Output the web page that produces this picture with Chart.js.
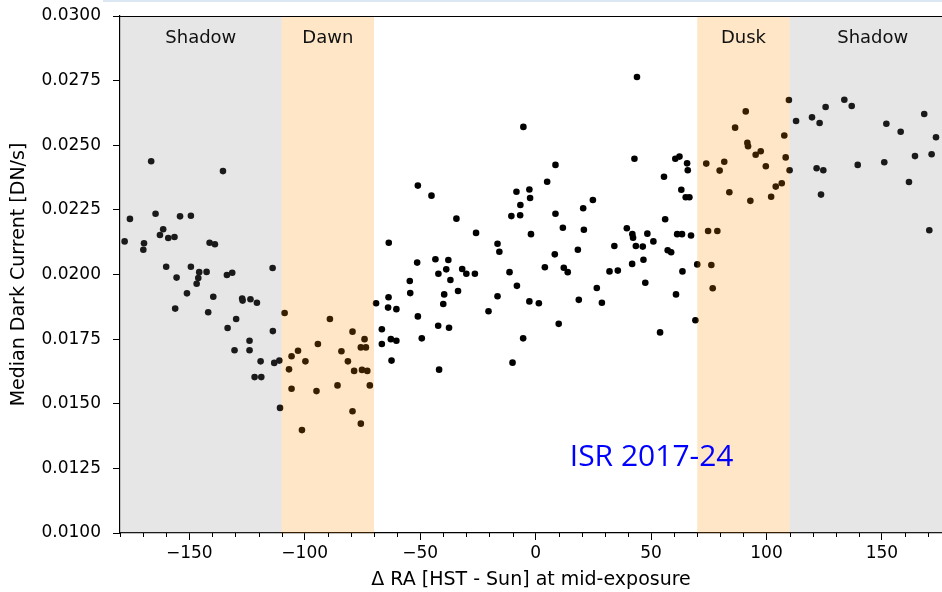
<!DOCTYPE html>
<html>
<head>
<meta charset="utf-8">
<script src="https://cdn.jsdelivr.net/npm/chart.js@4.4.1/dist/chart.umd.min.js"></script>
<style>
  html, body { margin: 0; padding: 0; background: #ffffff; }
  canvas { display: block; }
</style>
</head>
<body>
<canvas id="c" width="942" height="592"></canvas>
<script>
// Delta RA (HST - Sun) at mid-exposure, degrees
const deltaRA = [
  -166.5, -135.4, -164.6, -175.7, -154.0, -149.3, -161.3, -162.7, -159.1, -156.4,
  -178.0, -169.6, -169.9, -141.2, -138.9, -160.0, -149.3, -155.5, -145.7, -146.1,
  -146.8, -142.5, -133.7, -131.4, -113.9, -151.0, -139.6, -127.1, -126.9, -123.5,
  -120.7, -156.1, -141.8, -129.7, -133.4, -113.8, -123.9, -130.4, -123.9, -119.1,
  -113.2, -111.0, -121.7, -118.8, -110.7, -108.7, -89.1, -79.3, -74.1, -94.3,
  -75.7, -73.5, -102.9, -84.1, -105.7, -99.7, -81.3, -106.8, -78.6, -75.2,
  -72.9, -71.8, -85.8, -105.7, -94.9, -79.3, -75.7, -101.2, -69.1, -63.7,
  -63.9, -60.3, -66.6, -62.7, -60.3, -66.6, -62.4, -40.0, -51.0, -20.4,
  -2.7, 1.4, 10.0, -42.2, -37.5, -49.3, -5.4, -10.0, -41.8, -51.0,
  -45.1, -34.3, -25.8, -63.6, -16.5, -15.7, -8.3, -2.7, -2.4, -6.6,
  -10.5, -6.7, -2.0, -51.3, -43.4, -37.8, -38.7, -42.1, -31.8, -30.0,
  -26.3, -11.3, -36.9, -54.5, -8.1, -33.6, -54.3, -39.6, -16.5, -5.3,
  8.6, 42.8, 5.0, 60.5, 62.3, 65.6, 65.9, 55.6, 24.8, 20.6,
  63.1, 65.0, 66.6, 8.6, 11.8, 20.9, 56.1, 39.5, 41.9, 42.2,
  48.4, 61.3, 63.4, 67.3, 51.0, 34.1, 43.4, 46.4, 18.3, 57.2,
  58.7, 8.3, 41.8, 46.7, 70.0, 4.0, 12.2, 13.9, 32.0, 35.6,
  63.6, 47.5, 26.5, 60.8, 18.7, 28.7, 69.2, 53.9, 43.9, 109.7,
  91.0, 86.4, 91.7, 92.0, 97.5, 95.3, 107.7, 108.3, 99.7, 73.9,
  81.7, 79.7, 110.0, 83.9, 93.0, 102.0, 104.0, 106.6, 74.7, 78.7,
  76.1, 76.7, 112.8, 119.7, 123.0, 125.6, 133.7, 136.9, 121.7, 124.6,
  123.6, 139.5, 151.9, 151.0, 158.1, 161.7, 164.3, 168.3, 171.5, 173.4,
  170.5
];

// Median dark current, DN/s
const darkCurrent = [
  0.02438, 0.02400, 0.02235, 0.02215, 0.02225, 0.02227, 0.02175, 0.02153, 0.02141, 0.02145,
  0.02128, 0.02121, 0.02096, 0.02123, 0.02117, 0.02030, 0.02030, 0.01988, 0.02009, 0.01986,
  0.01964, 0.02010, 0.01998, 0.02007, 0.02025, 0.01927, 0.01914, 0.01907, 0.01899, 0.01904,
  0.01891, 0.01868, 0.01854, 0.01828, 0.01793, 0.01781, 0.01744, 0.01707, 0.01707, 0.01664,
  0.01658, 0.01667, 0.01603, 0.01603, 0.01484, 0.01851, 0.01828, 0.01779, 0.01750, 0.01731,
  0.01718, 0.01718, 0.01705, 0.01703, 0.01684, 0.01664, 0.01664, 0.01633, 0.01627, 0.01631,
  0.01627, 0.01571, 0.01571, 0.01558, 0.01549, 0.01471, 0.01423, 0.01398, 0.01889, 0.01912,
  0.01872, 0.01866, 0.01788, 0.01750, 0.01744, 0.01731, 0.01667, 0.01886, 0.01838, 0.01858,
  0.01896, 0.01889, 0.01809, 0.01802, 0.01794, 0.01753, 0.01753, 0.01659, 0.01632, 0.02344,
  0.02305, 0.02216, 0.02161, 0.02123, 0.02119, 0.02088, 0.02320, 0.02329, 0.02296, 0.02269,
  0.02226, 0.02229, 0.02156, 0.02046, 0.02059, 0.02056, 0.02020, 0.02003, 0.02021, 0.02003,
  0.02003, 0.02009, 0.01979, 0.01975, 0.01956, 0.01936, 0.01928, 0.01923, 0.01916, 0.02571,
  0.02424, 0.02448, 0.02359, 0.02448, 0.02456, 0.02430, 0.02403, 0.02378, 0.02288, 0.02256,
  0.02328, 0.02299, 0.02299, 0.02235, 0.02181, 0.02173, 0.02214, 0.02179, 0.02156, 0.02142,
  0.02158, 0.02156, 0.02156, 0.02151, 0.02128, 0.02110, 0.02110, 0.02108, 0.02096, 0.02094,
  0.02086, 0.02078, 0.02041, 0.02057, 0.02039, 0.02028, 0.02026, 0.02009, 0.02012, 0.02015,
  0.02012, 0.01968, 0.01948, 0.01923, 0.01902, 0.01891, 0.01823, 0.01776, 0.02764, 0.02675,
  0.02631, 0.02568, 0.02509, 0.02496, 0.02477, 0.02463, 0.02538, 0.02453, 0.02419, 0.02429,
  0.02436, 0.02402, 0.02403, 0.02318, 0.02285, 0.02301, 0.02340, 0.02353, 0.02168, 0.02168,
  0.02037, 0.01947, 0.02594, 0.02608, 0.02586, 0.02648, 0.02676, 0.02652, 0.02411, 0.02403,
  0.02309, 0.02424, 0.02583, 0.02434, 0.02552, 0.02358, 0.02458, 0.02621, 0.02465, 0.02531,
  0.02171
];

// Orbit phases along the Delta RA axis
const phaseNames = ['Shadow', 'Dawn', 'Dusk', 'Shadow'];
const phaseStart = [-180, -110, 70, 110];
const phaseEnd   = [-110, -70, 110, 180];
const phaseKind  = ['shadow', 'twilight', 'twilight', 'shadow'];
const phaseLabelAt = [-145, -90, 90, 146];

// Axis ticks
const xTicks = [-150, -100, -50, 0, 50, 100, 150];
const yTicks = [0.0100, 0.0125, 0.0150, 0.0175, 0.0200, 0.0225, 0.0250, 0.0275, 0.0300];

const reportTag = 'ISR 2017-24';

const FONT = "'DejaVu Sans', sans-serif";

const points = deltaRA.map((v, i) => ({ x: v, y: darkCurrent[i] }));

const phasePlugin = {
  id: 'phases',
  afterDatasetsDraw(chart) {
    const { ctx, chartArea: a, scales: { x, y } } = chart;
    ctx.save();
    ctx.beginPath();
    ctx.rect(a.left, a.top, a.right - a.left, a.bottom - a.top);
    ctx.clip();
    phaseStart.forEach((s, i) => {
      const x0 = x.getPixelForValue(s);
      const x1 = x.getPixelForValue(phaseEnd[i]);
      ctx.fillStyle = phaseKind[i] === 'shadow' ? 'rgba(128,128,128,0.2)' : 'rgba(255,140,0,0.22)';
      ctx.fillRect(x0, a.top, x1 - x0, a.bottom - a.top);
    });
    ctx.fillStyle = '#111111';
    ctx.font = '18px ' + FONT;
    ctx.textAlign = 'center';
    ctx.textBaseline = 'alphabetic';
    phaseNames.forEach((n, i) => {
      ctx.fillText(n, x.getPixelForValue(phaseLabelAt[i]), y.getPixelForValue(0.02895));
    });
    ctx.fillStyle = 'rgb(0,0,255)';
    ctx.font = "30px 'Open Sans', sans-serif";
    ctx.textAlign = 'left';
    ctx.fillText(reportTag, x.getPixelForValue(14.8), y.getPixelForValue(0.0126));
    ctx.restore();
  },
  afterDraw(chart) {
    const { ctx, chartArea: a, scales: { x } } = chart;
    ctx.save();
    ctx.strokeStyle = '#000000';
    ctx.lineWidth = 1.2;
    ctx.beginPath();
    ctx.moveTo(a.left, a.top + 0.5);
    ctx.lineTo(a.right, a.top + 0.5);
    ctx.stroke();
    ctx.lineWidth = 1;
    for (let v = -180; v <= 170; v += 10) {
      if (v % 50 === 0) continue;
      const px = Math.round(x.getPixelForValue(v)) + 0.5;
      ctx.beginPath();
      ctx.moveTo(px, a.bottom);
      ctx.lineTo(px, a.bottom + 4);
      ctx.stroke();
    }
    ctx.fillStyle = '#dbe7f3';
    ctx.fillRect(103, 0, chart.width - 103, 2);
    ctx.restore();
  }
};

new Chart(document.getElementById('c'), {
  type: 'scatter',
  data: {
    datasets: [{
      data: points,
      backgroundColor: '#000000',
      borderWidth: 0,
      pointRadius: 3.3,
      pointHoverRadius: 3.3
    }]
  },
  options: {
    responsive: false,
    devicePixelRatio: 1,
    animation: false,
    events: [],
    layout: { autoPadding: false, padding: { top: 16, right: 0, bottom: 0, left: 0 } },
    plugins: { legend: { display: false }, tooltip: { enabled: false } },
    scales: {
      x: {
        type: 'linear',
        min: -180,
        max: 176,
        afterBuildTicks: (s) => { s.ticks = xTicks.map(v => ({ value: v })); },
        afterFit: (s) => { s.height = 59; s.paddingLeft = 0; s.paddingRight = 0; },
        ticks: {
          color: '#000000',
          font: { family: FONT, size: 17 },
          padding: 3,
          maxRotation: 0,
          autoSkip: false,
          callback: (v) => (v < 0 ? '\u2212' + Math.abs(v) : String(v))
        },
        grid: { drawOnChartArea: false, drawTicks: true, tickLength: 7, color: '#000000' },
        border: { display: true, color: '#000000', width: 1.2 },
        title: {
          display: true,
          text: '\u0394 RA [HST - Sun] at mid-exposure',
          color: '#000000',
          font: { family: FONT, size: 19 },
          padding: { top: 0, bottom: 1 }
        }
      },
      y: {
        type: 'linear',
        min: 0.01,
        max: 0.03,
        afterBuildTicks: (s) => { s.ticks = yTicks.map(v => ({ value: v })); },
        afterFit: (s) => { s.width = 120; s.paddingTop = 0; s.paddingBottom = 0; },
        ticks: {
          color: '#000000',
          font: { family: FONT, size: 17 },
          padding: 12,
          autoSkip: false,
          callback: (v) => Number(v).toFixed(4)
        },
        grid: { drawOnChartArea: false, drawTicks: true, tickLength: 7, color: '#000000' },
        border: { display: true, color: '#000000', width: 1.2 },
        title: {
          display: true,
          text: 'Median Dark Current [DN/s]',
          color: '#000000',
          font: { family: FONT, size: 19 },
          padding: { top: 8, bottom: 0 }
        }
      }
    }
  },
  plugins: [phasePlugin]
});
</script>
</body>
</html>
